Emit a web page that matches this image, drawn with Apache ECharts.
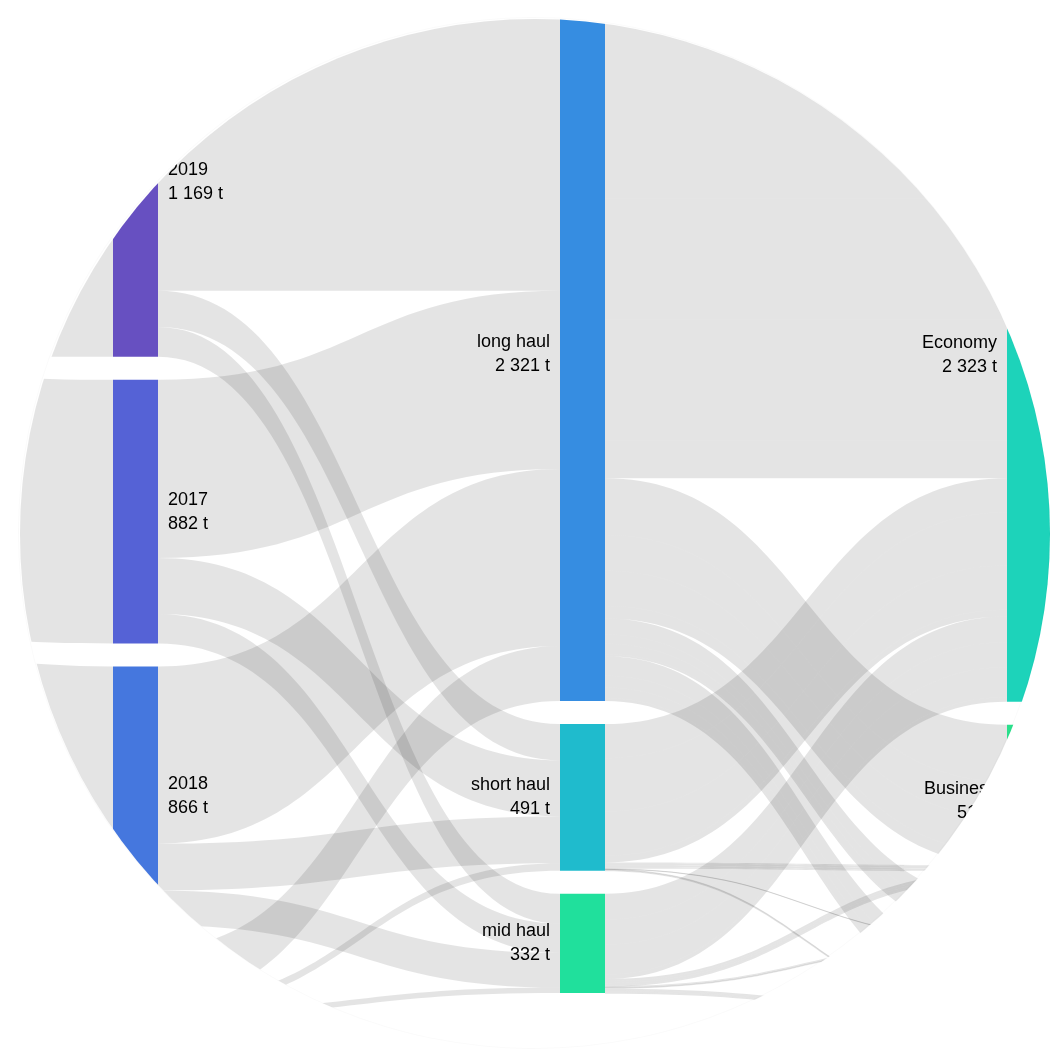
<!DOCTYPE html>
<html>
<head>
<meta charset="utf-8">
<script src="https://cdn.jsdelivr.net/npm/echarts@6/dist/echarts.min.js"></script>
<style>
html, body { margin: 0; padding: 0; background: #fff; }
#wrap { position: absolute; left: 0; top: 0; width: 1062px; height: 1062px; }
#chart { width: 1062px; height: 1062px; clip-path: circle(515px at 535px 534px); }
#ring { position: absolute; left: 19px; top: 18px; width: 1030px; height: 1030px; border-radius: 50%;
        box-shadow: 0 0 0 1px rgba(0,0,0,0.02); pointer-events: none; }
</style>
</head>
<body>
<div id="wrap"><div id="chart"></div><div id="ring"></div></div>
<script>
// ---- data (tonnes CO2) ----
const sourceName = 'All flights';
const years = ['2019', '2017', '2018', '2020'];
const hauls = ['long haul', 'short haul', 'mid haul'];
const classes = ['Economy', 'Business', 'First', 'Premium Economy'];
// year -> haul  (rows follow `years`, columns follow `hauls`)
const yearHaul = [
  [948, 121, 100],
  [596, 188, 98],
  [593, 157, 116],
  [184, 25, 18]
];
// haul -> class, split by year (rows follow `years`, columns follow `classes`)
const longHaulClass = [
  [640, 190, 53, 65],
  [405, 120, 31, 40],
  [405, 118, 35, 35],
  [125, 42, 7, 10]
];
const shortHaulClass = [
  [114, 4, 1, 2],
  [178, 7, 1, 2],
  [148, 7, 0, 2],
  [23, 2, 0, 0]
];
const midHaulClass = [
  [86, 7, 3, 4],
  [84, 7, 2, 5],
  [100, 8, 4, 4],
  [15, 2, 0, 1]
];

// ---- styles ----
const nodeColors = {
  'All flights': '#7347b8',
  '2019': '#6750c1',
  '2017': '#5562d6',
  '2018': '#4577de',
  '2020': '#3d84df',
  'long haul': '#368de1',
  'short haul': '#1fbbcd',
  'mid haul': '#20e09c',
  'Economy': '#1dd3ba',
  'Business': '#2ae08c',
  'First': '#3fe274',
  'Premium Economy': '#5be45e'
};

const sum = a => a.reduce((s, v) => s + v, 0);
const haulClass = [longHaulClass, shortHaulClass, midHaulClass];

const yearTotals = yearHaul.map(sum);
const haulTotals = hauls.map((h, j) => sum(yearHaul.map(r => r[j])));
const classTotals = classes.map((c, k) => sum(haulClass.map(m => sum(m.map(r => r[k])))));

const nodes = [];
const links = [];
nodes.push({ name: sourceName, value: sum(yearTotals), pos: 'right' });
years.forEach((y, i) => nodes.push({ name: y, value: yearTotals[i], pos: 'right' }));
hauls.forEach((h, j) => nodes.push({ name: h, value: haulTotals[j], pos: 'left' }));
classes.forEach((c, k) => nodes.push({ name: c, value: classTotals[k], pos: 'left' }));

years.forEach((y, i) => links.push({ source: sourceName, target: y, value: yearTotals[i] }));
years.forEach((y, i) => hauls.forEach((h, j) => links.push({ source: y, target: h, value: yearHaul[i][j] })));
hauls.forEach((h, j) => classes.forEach((c, k) => years.forEach((y, i) => {
  const v = haulClass[j][i][k];
  if (v > 0) links.push({ source: h, target: c, value: v });
})));

const fmt = v => String(Math.round(v)).replace(/\B(?=(\d{3})+(?!\d))/g, ' ');

const seriesNodes = nodes.map(n => ({
  name: n.name,
  value: n.value,
  itemStyle: { color: nodeColors[n.name] },
  label: { position: n.pos }
}));

const chart = echarts.init(document.getElementById('chart'), null, { renderer: 'canvas' });
chart.setOption({
  animation: false,
  backgroundColor: '#fff',
  series: [{
    type: 'sankey',
    left: -334,
    right: 10,
    top: 7.5,
    bottom: 46,
    nodeWidth: 45,
    nodeGap: 23,
    layoutIterations: 0,
    nodeAlign: 'justify',
    draggable: false,
    emphasis: { disabled: true },
    data: seriesNodes,
    links: links,
    itemStyle: { borderWidth: 0 },
    lineStyle: { color: '#000', opacity: 0.105, curveness: 0.5 },
    label: {
      show: true,
      fontSize: 18,
      lineHeight: 24,
      color: '#000',
      fontFamily: 'Liberation Sans, Arial, sans-serif',
      distance: 10,
      formatter: p => p.name + '\n' + fmt(p.value) + ' t'
    }
  }]
});
</script>
</body>
</html>
